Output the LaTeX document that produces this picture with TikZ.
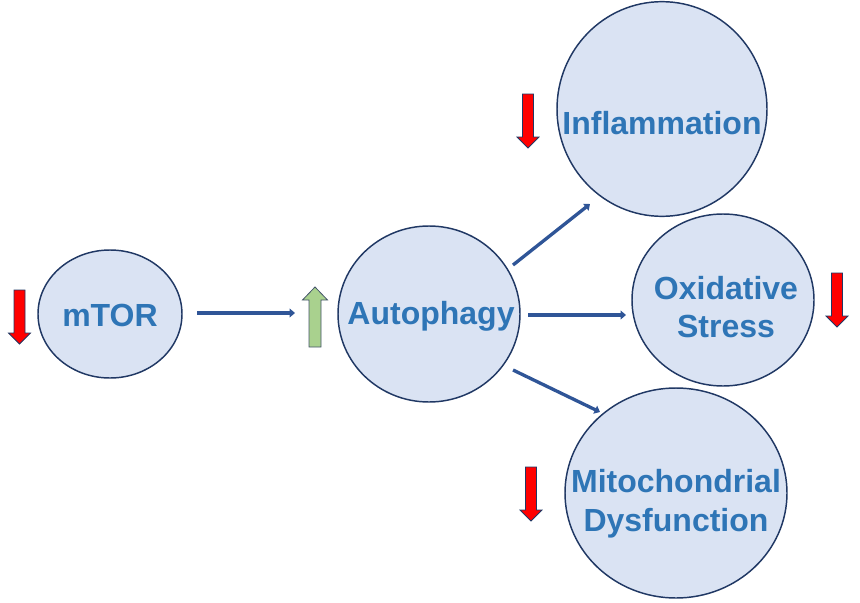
\documentclass[tikz,border=0pt]{standalone}
\usepackage{fontspec}
\setmainfont{Liberation Sans}
\usetikzlibrary{arrows.meta,shapes.geometric}
\definecolor{cfill}{HTML}{DAE3F3}
\definecolor{cline}{HTML}{203864}
\definecolor{ctext}{HTML}{2E75B6}
\definecolor{carrow}{HTML}{2F5597}
\definecolor{cred}{HTML}{FF0000}
\definecolor{cgreen}{HTML}{A9D18E}
\definecolor{cgline}{HTML}{44546A}
\tikzset{
  bub/.style={ellipse,draw=cline,fill=cfill,line width=1.1pt,inner sep=0pt,outer sep=0pt},
  lbl/.style={text=ctext,font=\bfseries\fontsize{24pt}{29pt}\selectfont,align=center,inner sep=0pt},
  conn/.style={draw=carrow,line width=2.5pt,-{Triangle[length=4pt,width=6.5pt]}},
  downblk/.pic={\draw[fill=cred,draw=cline,line width=0.6pt]
     (-5.5,0) -- (5.5,0) -- (5.5,43) -- (11,43) -- (0,54) -- (-11,43) -- (-5.5,43) -- cycle;},
  upblk/.pic={\draw[fill=cgreen,draw=cgline,line width=0.6pt]
     (-6,60) -- (6,60) -- (6,13) -- (12.5,13) -- (0,0) -- (-12.5,13) -- (-6,13) -- cycle;}
}
\begin{document}
\begin{tikzpicture}[x=0.75pt,y=-0.75pt]
\useasboundingbox (0,0) rectangle (860,603);
% bubbles
\node[bub,minimum width=108pt,minimum height=96pt] (mtor) at (110,314) {};
\node[bub,minimum width=136.5pt,minimum height=132pt] (auto) at (429,314) {};
\node[bub,minimum width=157.5pt,minimum height=161pt] (infl) at (662,109) {};
\node[bub,minimum width=136.5pt,minimum height=129pt] (oxid) at (723,300) {};
\node[bub,minimum width=166.5pt,minimum height=157.5pt] (mito) at (676,493) {};
% labels
\node[lbl] (mtorT) at (110,315) {mTOR};
\node[lbl] (autoT) at (431,316) {Autophagy};
\node[lbl] (inflT) at (662,123) {Inflammation};
\node[lbl] (oxidT) at (726,307) {Oxidative\\Stress};
\node[lbl] (mitoT) at (676,504) {Mitochondrial\\Dysfunction};
% connector ends
\coordinate (a1s) at (197,313); \coordinate (a1e) at (295,313);
\coordinate (a2s) at (513,265); \coordinate (a2e) at (590,204);
\coordinate (a3s) at (528,315); \coordinate (a3e) at (626,315);
\coordinate (a4s) at (513,370); \coordinate (a4e) at (600,412);
\draw[conn] (a1s) -- (a1e);
\draw[conn] (a2s) -- (a2e);
\draw[conn] (a3s) -- (a3e);
\draw[conn] (a4s) -- (a4e);
% block arrows
\pic at (19.5,290) {downblk};
\pic at (315,287) {upblk};
\pic at (528,94) {downblk};
\pic at (837,273) {downblk};
\pic at (531,467) {downblk};
\end{tikzpicture}
\end{document}
